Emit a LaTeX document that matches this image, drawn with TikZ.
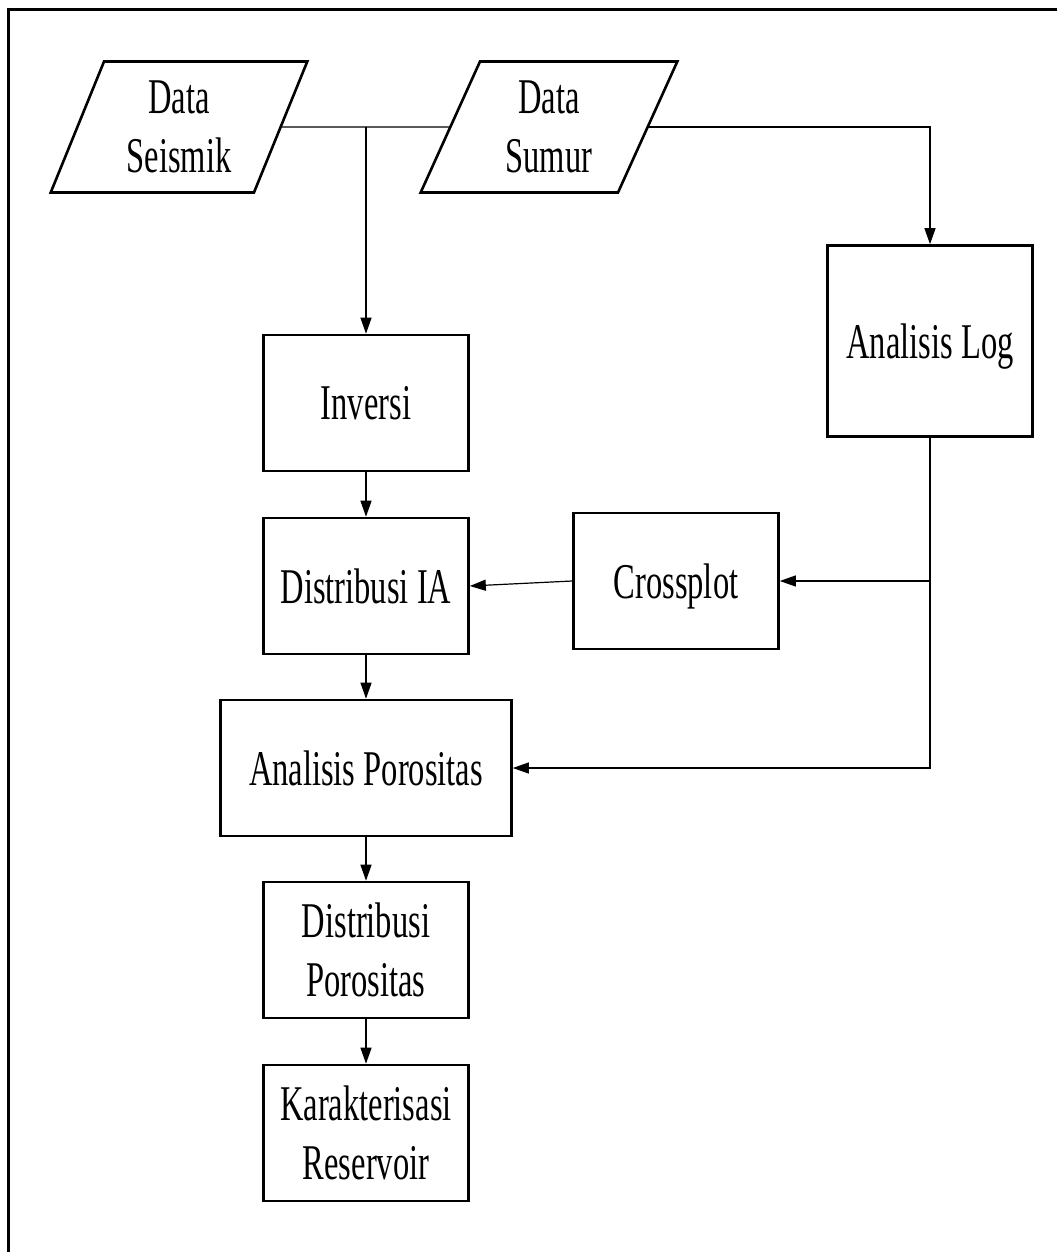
\documentclass[tikz,border=0pt]{standalone}
\usepackage{fontspec}
\setmainfont[FakeStretch=0.65]{Liberation Serif}
\usetikzlibrary{shapes.geometric,arrows.meta}
\begin{document}
\begin{tikzpicture}[x=1pt, y=-1pt,
	every node/.style={font=\fontsize{50}{59}\selectfont, align=center, inner sep=0pt},
	databox/.style={draw, line width=2.6pt, trapezium, trapezium left angle=68, trapezium right angle=112, trapezium stretches=true, minimum width=257pt, minimum height=131pt},
	procbox/.style={draw, line width=2.6pt, minimum width=205pt, minimum height=136pt},
	flow/.style={line width=1.2pt, -{Triangle[length=16pt, width=11pt]}},
	link/.style={line width=1.2pt}]
	\useasboundingbox (0,0) rectangle (1057,1252);
	\draw[line width=3pt] (8.5,1252) -- (8.5,9.5) -- (1057,9.5);
	% input data
	\node[databox] (seismik) at (179,127) {Data\\Seismik};
	\node[databox] (sumur) at (549,127) {Data\\Sumur};
	% process boxes
	\node[procbox] (inversi) at (366,403) {Inversi};
	\node[procbox] (distia) at (366,586) {Distribusi IA};
	\node[procbox, minimum height=191pt, text depth=0pt] (log) at (930,341) {Analisis Log};
	\node[procbox, text depth=0pt] (cross) at (676,581) {Crossplot};
	\node[procbox, minimum width=291pt, text depth=0pt] (poros) at (366,768) {Analisis Porositas};
	\node[procbox] (distpor) at (366,950) {Distribusi\\Porositas};
	\node[procbox] (karak) at (366,1133) {Karakterisasi\\Reservoir};
	% connectors
	\draw[link] (seismik.east) -- (sumur.west);
	\draw[flow] (inversi.north |- seismik.east) -- (inversi.north);
	\draw[flow] (sumur.east) -- (log.north |- sumur.east) -- (log.north);
	\draw[flow] (inversi.south) -- (distia.north);
	\draw[flow] (cross.west) -- (distia.east);
	\draw[flow] (log.south) -- (log.south |- poros.east) -- (poros.east);
	\draw[flow] (log.south |- cross.east) -- (cross.east);
	\draw[flow] (distia.south) -- (poros.north);
	\draw[flow] (poros.south) -- (distpor.north);
	\draw[flow] (distpor.south) -- (karak.north);
\end{tikzpicture}
\end{document}
